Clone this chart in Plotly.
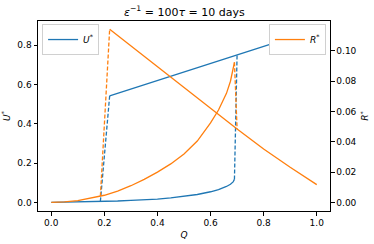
import plotly.graph_objects as go

# ---- data ----
# lower (stable) branch
q_low = [0.0, 0.05, 0.1, 0.15, 0.2, 0.25, 0.3, 0.35, 0.4, 0.45, 0.5, 0.55, 0.6, 0.63, 0.66, 0.675, 0.685, 0.69]
u_low = [0.0, 0.001, 0.002, 0.003, 0.005, 0.007, 0.010, 0.013, 0.017, 0.023, 0.030, 0.040, 0.054, 0.065, 0.081, 0.092, 0.104, 0.117]
r_low = [0.0, 0.0003, 0.0012, 0.0027, 0.0047, 0.0075, 0.0110, 0.0152, 0.0200, 0.0254, 0.0320, 0.0405, 0.0525, 0.0610, 0.0720, 0.0800, 0.0870, 0.0925]

# upper branch
q_up = [0.22, 0.3, 0.4, 0.5, 0.6, 0.7, 0.8, 0.9, 1.0]
u_up = [0.543, 0.578, 0.620, 0.664, 0.709, 0.752, 0.795, 0.838, 0.880]
r_up = [0.1144, 0.1035, 0.0900, 0.0763, 0.0622, 0.0484, 0.0353, 0.0232, 0.0117]

# jumps between branches (dashed)
q_jump_left = [0.185, 0.22]
u_jump_left = [0.005, 0.543]
r_jump_left = [0.0040, 0.1144]
q_jump_right = [0.69, 0.70]
u_jump_right = [0.117, 0.754]
r_jump_right = [0.0925, 0.0484]

x_ticks = [0.0, 0.2, 0.4, 0.6, 0.8, 1.0]
y_ticks = [0.0, 0.2, 0.4, 0.6, 0.8]
y2_ticks = [0.00, 0.02, 0.04, 0.06, 0.08, 0.10]

BLUE = "#1f77b4"
ORANGE = "#ff7f0e"
FONT = "DejaVu Sans"
LW = 1.3
FS = 9

fig = go.Figure()
fig.add_trace(go.Scatter(x=q_low, y=u_low, mode="lines", line=dict(color=BLUE, width=LW),
                         name="<i>U</i><sup>*</sup>", legend="legend", showlegend=True))
fig.add_trace(go.Scatter(x=q_up, y=u_up, mode="lines", line=dict(color=BLUE, width=LW), showlegend=False))
fig.add_trace(go.Scatter(x=q_jump_left, y=u_jump_left, mode="lines",
                         line=dict(color=BLUE, width=LW, dash="4px,2px"), showlegend=False))
fig.add_trace(go.Scatter(x=q_jump_right, y=u_jump_right, mode="lines",
                         line=dict(color=BLUE, width=LW, dash="4px,2px"), showlegend=False))

fig.add_trace(go.Scatter(x=q_low, y=r_low, mode="lines", line=dict(color=ORANGE, width=LW),
                         name="<i>R</i><sup>*</sup>", yaxis="y2", legend="legend2", showlegend=True))
fig.add_trace(go.Scatter(x=q_up, y=r_up, mode="lines", line=dict(color=ORANGE, width=LW),
                         yaxis="y2", showlegend=False))
fig.add_trace(go.Scatter(x=q_jump_left, y=r_jump_left, mode="lines",
                         line=dict(color=ORANGE, width=LW, dash="4px,2px"), yaxis="y2", showlegend=False))
fig.add_trace(go.Scatter(x=q_jump_right, y=r_jump_right, mode="lines",
                         line=dict(color=ORANGE, width=LW, dash="4px,2px"), yaxis="y2", showlegend=False))

axis_common = dict(showgrid=False, zeroline=False, showline=True, linecolor="black", linewidth=1,
                   ticks="outside", ticklen=3.5, tickwidth=1, tickcolor="black", automargin=False,
                   tickfont=dict(size=FS, color="black", family=FONT))

fig.update_layout(
    width=374, height=244,
    margin=dict(l=38, r=44, t=21, b=33, autoexpand=False),
    paper_bgcolor="white", plot_bgcolor="white",
    font=dict(family=FONT, color="black", size=FS),
    title=dict(text="<i>ε</i><sup>−1</sup> = 100<i>τ</i> = 10 days", x=0.493, xanchor="center",
               y=0.95, yanchor="middle", font=dict(size=11, family=FONT, color="black")),
    xaxis=dict(range=[-0.05, 1.05], tickvals=x_ticks, ticktext=[f"{v:.1f}" for v in x_ticks],
               mirror=True, title=dict(text="<i>Q</i>", standoff=4, font=dict(size=FS)), **axis_common),
    yaxis=dict(range=[-0.044, 0.924], tickvals=y_ticks, ticktext=[f"{v:.1f}" for v in y_ticks],
               title=dict(text="<i>U</i><sup>*</sup>", standoff=6, font=dict(size=FS)), **axis_common),
    yaxis2=dict(range=[-0.0057, 0.1198], tickvals=y2_ticks, ticktext=[f"{v:.2f}" for v in y2_ticks],
                overlaying="y", side="right",
                title=dict(text="<i>R</i><sup>*</sup>", standoff=6, font=dict(size=FS)), **axis_common),
    legend=dict(x=0.014, y=0.984, xanchor="left", yanchor="top", bgcolor="white",
                bordercolor="#d0d0d0", borderwidth=1, font=dict(size=FS, family=FONT),
                itemwidth=30, tracegroupgap=0),
    legend2=dict(x=0.986, y=0.984, xanchor="right", yanchor="top", bgcolor="white",
                 bordercolor="#d0d0d0", borderwidth=1, font=dict(size=FS, family=FONT),
                 itemwidth=30, tracegroupgap=0),
    showlegend=True,
)

fig.write_html("out.html", config={"displayModeBar": False},
               post_script="document.body.style.margin='0';document.body.style.overflow='hidden';")
